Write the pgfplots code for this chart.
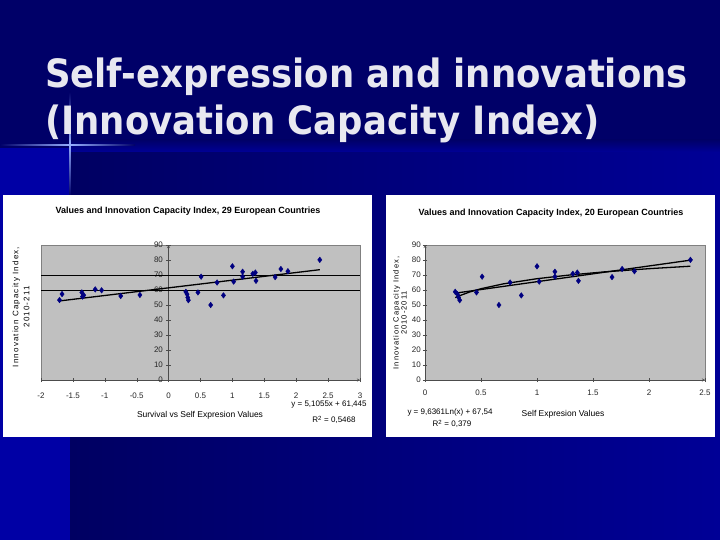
\documentclass[border=0pt]{standalone}
\usepackage{pgfplots}
\pgfplotsset{compat=1.18}
\usepackage{fontspec}
\setmainfont{Liberation Sans}
\newfontfamily\slidefont{DejaVu Sans}
\newfontfamily\spacedfont[LetterSpace=14]{Liberation Sans}

\definecolor{navytop}{RGB}{0,0,104}
\definecolor{navylow}{RGB}{0,0,98}
\definecolor{bluelow}{RGB}{0,0,150}
\definecolor{bluestrip}{RGB}{0,0,165}
\definecolor{crossblue}{RGB}{150,175,255}
\definecolor{plotgray}{RGB}{192,192,192}
\definecolor{marknavy}{RGB}{0,0,128}
\definecolor{titlegray}{RGB}{232,232,240}

% countries with self-expression values above zero (used in both charts)
\pgfplotstableread{
x y
0.27 58.8
0.29 57.2
0.30 55.0
0.31 53.2
0.46 58.4
0.51 68.9
0.66 50.0
0.76 65.0
0.86 56.4
1.00 75.8
1.02 65.6
1.16 72.2
1.16 68.9
1.32 70.8
1.36 71.6
1.37 66.1
1.67 68.6
1.76 74.0
1.87 72.5
2.37 80.1
}\selfexp
% countries with survival values
\pgfplotstableread{
x y
-1.71 53.3
-1.67 57.3
-1.36 58.4
-1.33 56.5
-1.35 55.6
-1.15 60.4
-1.05 59.8
-0.75 56.0
-0.45 56.7
}\survival

\pgfplotsset{
  slidechart/.style={
    scale only axis, ymin=0, ymax=90,
    ytick={0,10,20,30,40,50,60,70,80,90},
    axis background/.style={fill=plotgray, draw=gray},
    axis line style={-, black!70},
    tick style={black!70},
    ticklabel style={font=\fontsize{8}{8}\selectfont, text=black!85},
    /pgf/number format/assume math mode=true,
    hide obscured x ticks=false, hide obscured y ticks=false,
  },
  pts/.style={only marks, mark=diamond*, mark size=2.8pt,
    mark options={fill=marknavy, draw=marknavy}},
}

\begin{document}
\begin{tikzpicture}[x=1pt, y=1pt]
% slide background
\fill[navytop] (0pt,0pt) rectangle (720pt,-540pt);
\shade[left color=navylow, right color=bluelow] (70pt,-148pt) rectangle (720pt,-540pt);
\fill[bluestrip] (0pt,-148pt) rectangle (70pt,-540pt);
\shade[top color=navytop, bottom color=bluelow] (70pt,-140pt) rectangle (720pt,-152pt);
\shade[top color=navytop, bottom color=navytop, middle color=crossblue] (69.2pt,-92pt) rectangle (70.8pt,-196pt);
\shade[left color=crossblue, right color=navytop] (70pt,-144.2pt) rectangle (135pt,-145.8pt);
\shade[left color=navytop, right color=crossblue] (0pt,-144.2pt) rectangle (70pt,-145.8pt);

% slide title
\node[anchor=base west, xscale=0.91, text=titlegray, inner sep=0pt]
  at (45pt,-88pt) {\slidefont\bfseries\fontsize{39}{39}\selectfont Self-expression and innovations};
\node[anchor=base west, xscale=0.91, text=titlegray, inner sep=0pt]
  at (45pt,-135pt) {\slidefont\bfseries\fontsize{39}{39}\selectfont (Innovation Capacity Index)};

% chart panels
\fill[white] (3pt,-195pt) rectangle (372pt,-437pt);
\fill[white] (386pt,-195pt) rectangle (715pt,-437pt);

% left chart
\begin{axis}[slidechart, at={(41pt,-380pt)}, anchor=south west,
  width=319pt, height=135pt,
  xmin=-2, xmax=3, xtick={-2,-1.5,-1,-0.5,0,0.5,1,1.5,2,2.5,3},
  axis x line=bottom, axis y line=middle,
  xticklabel style={yshift=-7pt}]
\addplot[black, thin] coordinates {(-2,70) (3,70)};
\addplot[black, thin] coordinates {(-2,60) (3,60)};
\addplot[pts] table {\survival};
\addplot[pts] table {\selfexp};
\addplot[black, line width=1.3pt] coordinates {(-1.71,52.71) (2.37,73.55)};
\end{axis}
\node[font=\bfseries\fontsize{9}{9}\selectfont] at (188pt,-211pt)
  {Values and Innovation Capacity Index, 29 European Countries};
\node[font=\fontsize{8.5}{8.5}\selectfont] at (200pt,-415pt) {Survival vs Self Expresion Values};
\node[rotate=90, align=center, font=\spacedfont\fontsize{8}{11}\selectfont] at (21pt,-307pt)
  {Innovation Capacity Index,\\ 2010-211};
\node[font=\fontsize{8}{8}\selectfont] at (329pt,-405pt) {y = 5,1055x + 61,445};
\node[font=\fontsize{8}{8}\selectfont] at (334pt,-420pt) {R\textsuperscript{2} = 0,5468};

% right chart
\begin{axis}[slidechart, at={(425pt,-380pt)}, anchor=south west,
  width=280pt, height=135pt,
  xmin=0, xmax=2.5, xtick={0,0.5,1,1.5,2,2.5},
  axis x line=bottom, axis y line=left,
  xticklabel style={yshift=-4pt}, yticklabel style={xshift=1.5pt}]
\addplot[pts] table {\selfexp};
\addplot[black, line width=1.3pt] coordinates {(0.27,57.9) (2.37,79.9)};
\addplot[black, line width=1.3pt] coordinates {(0.27,54.92) (0.3,55.94) (0.4,58.71)
  (0.5,60.86) (0.7,64.10) (1.0,67.54) (1.3,70.07) (1.6,72.07) (2.0,74.22) (2.37,75.86)};
\end{axis}
\node[font=\bfseries\fontsize{9}{9}\selectfont] at (551pt,-213pt)
  {Values and Innovation Capacity Index, 20 European Countries};
\node[font=\fontsize{8.5}{8.5}\selectfont] at (563pt,-414pt) {Self Expresion Values};
\node[rotate=90, align=center, font=\spacedfont\fontsize{7.5}{8}\selectfont] at (400pt,-313pt)
  {Innovation Capacity Index,\\ 2010-2011};
\node[font=\fontsize{8}{8}\selectfont] at (450pt,-412pt) {y = 9,6361Ln(x) + 67,54};
\node[font=\fontsize{8}{8}\selectfont] at (452pt,-424pt) {R\textsuperscript{2} = 0,379};
\end{tikzpicture}
\end{document}
